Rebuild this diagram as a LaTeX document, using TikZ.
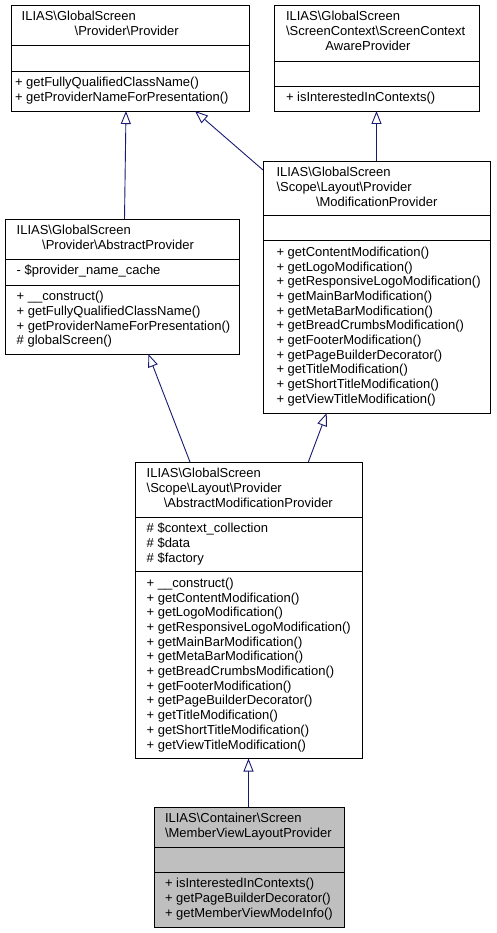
\documentclass[tikz,border=0pt]{standalone}
\usepackage{fontspec}
\setmainfont{Liberation Sans}
\usetikzlibrary{arrows.meta}
\definecolor{edgeblue}{HTML}{191970}
\definecolor{boxgray}{HTML}{BFBFBF}
\newcommand{\bs}{\textbackslash}
\begin{document}
\begin{tikzpicture}[x=1pt,y=-1pt,
  classbox/.style={draw=black, line width=0.9pt, inner sep=0pt, outer sep=0pt, anchor=north west, fill=white},
  sepline/.style={draw=black, line width=0.9pt},
  lbl/.style={inner sep=0pt, outer sep=0pt, anchor=base west, font=\fontsize{13}{14.7}\selectfont},
  clbl/.style={lbl, anchor=base},
  inherit/.style={draw=edgeblue, line width=0.9pt, -{Triangle[open, length=13pt, width=10pt]}}]
\useasboundingbox (0,0) rectangle (496,933);

% Box A: Provider
\node[classbox, minimum width=238pt, minimum height=106pt] (A) at (11,5) {};
\draw[sepline] ([yshift=-40pt]A.north west) -- ([yshift=-40pt]A.north east);
\draw[sepline] ([yshift=-66pt]A.north west) -- ([yshift=-66pt]A.north east);
\node[lbl] (a1) at (21.7,20.8) {ILIAS\bs GlobalScreen};
\node[clbl] (a2) at (126.7,35.5) {\bs Provider\bs Provider};
\node[lbl] (a3) at (15,86.8) {+ getFullyQualifiedClassName()};
\node[lbl] (a4) at (15,101.5) {+ getProviderNameForPresentation()};

% Box B: ScreenContextAwareProvider
\node[classbox, minimum width=205pt, minimum height=106pt] (B) at (274,5) {};
\draw[sepline] ([yshift=-56pt]B.north west) -- ([yshift=-56pt]B.north east);
\draw[sepline] ([yshift=-81pt]B.north west) -- ([yshift=-81pt]B.north east);
\node[lbl] (b1) at (286,20.8) {ILIAS\bs GlobalScreen};
\node[lbl] (b2) at (286,35.5) {\bs ScreenContext\bs ScreenContext};
\node[clbl] (b3) at (368,50.2) {AwareProvider};
\node[lbl] (b4) at (286,101.8) {+ isInterestedInContexts()};

% Box C: AbstractProvider
\node[classbox, minimum width=234pt, minimum height=135pt] (C) at (5,219) {};
\draw[sepline] ([yshift=-40pt]C.north west) -- ([yshift=-40pt]C.north east);
\draw[sepline] ([yshift=-66pt]C.north west) -- ([yshift=-66pt]C.north east);
\node[lbl] (c1) at (16.7,234.8) {ILIAS\bs GlobalScreen};
\node[clbl] (c2) at (118,249.5) {\bs Provider\bs AbstractProvider};
\node[lbl] (c3) at (16.7,274.8) {- \$provider\_name\_cache};
\node[lbl] (c4) at (16.7,300.8) {+ \_\_construct()};
\node[lbl] (c5) at (16.7,315.5) {+ getFullyQualifiedClassName()};
\node[lbl] (c6) at (16.7,330.2) {+ getProviderNameForPresentation()};
\node[lbl] (c7) at (16.7,344.9) {\# globalScreen()};

% Box D: ModificationProvider
\node[classbox, minimum width=227pt, minimum height=252pt] (D) at (263,161) {};
\draw[sepline] ([yshift=-54.5pt]D.north west) -- ([yshift=-54.5pt]D.north east);
\draw[sepline] ([yshift=-79.5pt]D.north west) -- ([yshift=-79.5pt]D.north east);
\node[lbl] (d1) at (276.5,176.8) {ILIAS\bs GlobalScreen};
\node[lbl] (d2) at (276.5,191.5) {\bs Scope\bs Layout\bs Provider};
\node[clbl] (d3) at (376.7,206.2) {\bs ModificationProvider};
\node[lbl] (d4) at (276.5,256.3) {+ getContentModification()};
\node[lbl] (d5) at (276.5,271.0) {+ getLogoModification()};
\node[lbl] (d6) at (276.5,285.7) {+ getResponsiveLogoModification()};
\node[lbl] (d7) at (276.5,300.4) {+ getMainBarModification()};
\node[lbl] (d8) at (276.5,315.1) {+ getMetaBarModification()};
\node[lbl] (d9) at (276.5,329.8) {+ getBreadCrumbsModification()};
\node[lbl] (d10) at (276.5,344.5) {+ getFooterModification()};
\node[lbl] (d11) at (276.5,359.2) {+ getPageBuilderDecorator()};
\node[lbl] (d12) at (276.5,373.9) {+ getTitleModification()};
\node[lbl] (d13) at (276.5,388.6) {+ getShortTitleModification()};
\node[lbl] (d14) at (276.5,403.3) {+ getViewTitleModification()};

% Box E: AbstractModificationProvider
\node[classbox, minimum width=227pt, minimum height=296.5pt] (E) at (135,462) {};
\draw[sepline] ([yshift=-55pt]E.north west) -- ([yshift=-55pt]E.north east);
\draw[sepline] ([yshift=-109.5pt]E.north west) -- ([yshift=-109.5pt]E.north east);
\node[lbl] (e1) at (146.7,477.8) {ILIAS\bs GlobalScreen};
\node[lbl] (e2) at (146.7,492.5) {\bs Scope\bs Layout\bs Provider};
\node[clbl] (e3) at (248.3,507.2) {\bs AbstractModificationProvider};
\node[lbl] (e4) at (146.7,532.8) {\# \$context\_collection};
\node[lbl] (e5) at (146.7,547.5) {\# \$data};
\node[lbl] (e6) at (146.7,562.2) {\# \$factory};
\node[lbl] (e7) at (146.7,587.3) {+ \_\_construct()};
\node[lbl] (e8) at (146.7,602.0) {+ getContentModification()};
\node[lbl] (e9) at (146.7,616.7) {+ getLogoModification()};
\node[lbl] (e10) at (146.7,631.4) {+ getResponsiveLogoModification()};
\node[lbl] (e11) at (146.7,646.1) {+ getMainBarModification()};
\node[lbl] (e12) at (146.7,660.8) {+ getMetaBarModification()};
\node[lbl] (e13) at (146.7,675.5) {+ getBreadCrumbsModification()};
\node[lbl] (e14) at (146.7,690.2) {+ getFooterModification()};
\node[lbl] (e15) at (146.7,704.9) {+ getPageBuilderDecorator()};
\node[lbl] (e16) at (146.7,719.6) {+ getTitleModification()};
\node[lbl] (e17) at (146.7,734.3) {+ getShortTitleModification()};
\node[lbl] (e18) at (146.7,749.0) {+ getViewTitleModification()};

% Box F: MemberViewLayoutProvider
\node[classbox, fill=boxgray, minimum width=190pt, minimum height=120pt] (F) at (154,807) {};
\draw[sepline] ([yshift=-40pt]F.north west) -- ([yshift=-40pt]F.north east);
\draw[sepline] ([yshift=-65pt]F.north west) -- ([yshift=-65pt]F.north east);
\node[lbl] (f1) at (165,822.8) {ILIAS\bs Container\bs Screen};
\node[lbl] (f2) at (165,837.5) {\bs MemberViewLayoutProvider};
\node[lbl] (f3) at (165,887.8) {+ isInterestedInContexts()};
\node[lbl] (f4) at (165,902.5) {+ getPageBuilderDecorator()};
\node[lbl] (f5) at (165,917.2) {+ getMemberViewModeInfo()};

% Inheritance edges
\draw[inherit] ([xshift=119.5pt]C.north west) -- ([xshift=115pt]A.south west);
\draw[inherit] ([yshift=-9pt]D.north west) -- ([xshift=184pt]A.south west);
\draw[inherit] ([xshift=113.5pt]D.north west) -- ([xshift=102.5pt]B.south west);
\draw[inherit] ([xshift=55pt]E.north west) -- ([xshift=143.3pt]C.south west);
\draw[inherit] ([xshift=173.3pt]E.north west) -- ([xshift=63.7pt]D.south west);
\draw[inherit] ([xshift=94.5pt]F.north west) -- ([xshift=113.5pt]E.south west);
\end{tikzpicture}
\end{document}
